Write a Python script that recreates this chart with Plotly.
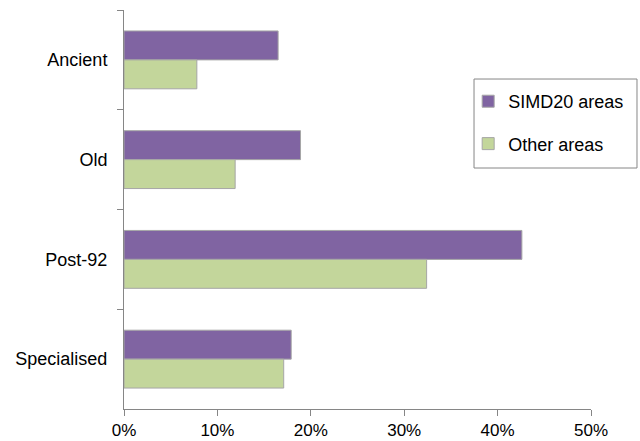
import plotly.graph_objects as go

categories = ["Ancient", "Old", "Post-92", "Specialised"]
simd20 = [0.165, 0.189, 0.426, 0.179]
other = [0.078, 0.119, 0.324, 0.171]
series_names = ["SIMD20 areas", "Other areas"]
x_ticks = [0, 0.1, 0.2, 0.3, 0.4, 0.5]
x_tick_labels = ["0%", "10%", "20%", "30%", "40%", "50%"]

fig = go.Figure()
fig.add_trace(go.Bar(y=categories, x=simd20, orientation="h", name=series_names[0],
                     legendgroup="a",
                     marker=dict(color="#8064A2", line=dict(color="#A6A6A6", width=1))))
fig.add_trace(go.Bar(y=categories, x=other, orientation="h", name=series_names[1],
                     legendgroup="b",
                     marker=dict(color="#C3D69B", line=dict(color="#A6A6A6", width=1))))

fig.update_layout(
    width=640, height=441,
    margin=dict(l=124, r=49, t=10, b=32),
    paper_bgcolor="white", plot_bgcolor="white",
    barmode="group", bargap=0.42, bargroupgap=0,
    font=dict(family="Liberation Sans, Arial, sans-serif", size=18, color="#000000"),
    legend=dict(x=0.737, y=0.817, xanchor="left", yanchor="top", xref="paper", yref="paper",
                borderwidth=0, bgcolor="rgba(0,0,0,0)",
                font=dict(size=18), itemwidth=30, tracegroupgap=16),
    xaxis=dict(range=[0, 0.5], tickvals=x_ticks, ticktext=x_tick_labels, automargin=False,
               tickfont=dict(size=17),
               showgrid=False, zeroline=False, showline=True, linecolor="#868686", linewidth=1,
               ticks="outside", ticklen=6, tickcolor="#868686", ticklabelstandoff=0),
    yaxis=dict(autorange="reversed", showgrid=False, showline=True, linecolor="#868686", linewidth=1,
               ticks="outside", ticklen=6, tickcolor="#868686", tickson="boundaries",
               ticklabelstandoff=12, automargin=False),
    shapes=[dict(type="rect", xref="paper", yref="paper",
                 x0=0.7495, x1=1.0985, y0=0.604, y1=0.827,
                 line=dict(color="#868686", width=1), fillcolor="rgba(0,0,0,0)", layer="below")],
)

fig.write_html("out.html")
